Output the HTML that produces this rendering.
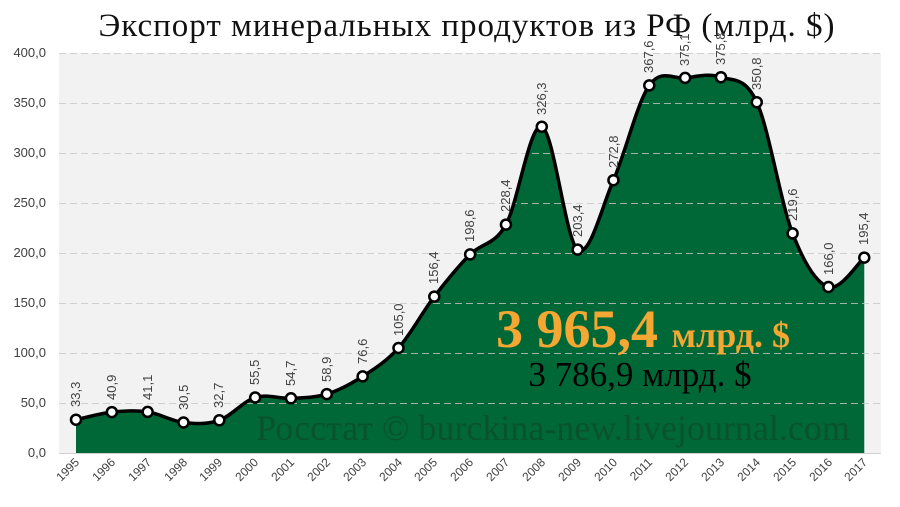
<!DOCTYPE html>
<html><head><meta charset="utf-8"><style>
body{margin:0;background:#fff}
svg{display:block}
.t{font-family:"Liberation Sans","DejaVu Sans",sans-serif;font-size:13px;fill:#404040}
.s{font-family:"Liberation Serif","DejaVu Serif",serif}
</style></head><body>
<svg id="c" width="900" height="507" viewBox="0 0 900 507" xmlns="http://www.w3.org/2000/svg">
<rect x="59" y="53" width="822" height="400" fill="#f2f2f2"/>
<path id="area" fill="#006837"/>
<g stroke="#c8c8c8" stroke-width="1" stroke-dasharray="7,4" opacity="0.8">
<line x1="59" x2="881" y1="53.5" y2="53.5"/><line x1="59" x2="881" y1="103.5" y2="103.5"/>
<line x1="59" x2="881" y1="153.5" y2="153.5"/><line x1="59" x2="881" y1="203.5" y2="203.5"/>
<line x1="59" x2="881" y1="253.5" y2="253.5"/><line x1="59" x2="881" y1="303.5" y2="303.5"/>
<line x1="59" x2="881" y1="353.5" y2="353.5"/><line x1="59" x2="881" y1="403.5" y2="403.5"/>
</g>
<line x1="59" x2="881" y1="453.5" y2="453.5" stroke="#d0d0d0"/>
<g class="t" text-anchor="end">
<text x="46" y="57">400,0</text><text x="46" y="107">350,0</text><text x="46" y="157">300,0</text>
<text x="46" y="207">250,0</text><text x="46" y="257">200,0</text><text x="46" y="307">150,0</text>
<text x="46" y="357">100,0</text><text x="46" y="407">50,0</text><text x="46" y="457">0,0</text>
</g>
<text class="s" x="467" y="36" text-anchor="middle" font-size="33" letter-spacing="1" fill="#111">Экспорт минеральных продуктов из РФ (млрд. $)</text>
<text class="s" x="553" y="440" text-anchor="middle" font-size="36" fill="#0b4f2a" opacity="0.85">Росстат © burckina-new.livejournal.com</text>
<path id="line" fill="none" stroke="#000" stroke-width="3.5"/>
<g id="dots"></g>
<g class="t" id="vals">
<text transform="translate(80,407) rotate(-90)">33,3</text>
<text transform="translate(116,400) rotate(-90)">40,9</text>
<text transform="translate(152,400) rotate(-90)">41,1</text>
<text transform="translate(188,410) rotate(-90)">30,5</text>
<text transform="translate(223,408) rotate(-90)">32,7</text>
<text transform="translate(259,385) rotate(-90)">55,5</text>
<text transform="translate(295,386) rotate(-90)">54,7</text>
<text transform="translate(331,382) rotate(-90)">58,9</text>
<text transform="translate(367,364) rotate(-90)">76,6</text>
<text transform="translate(403,336) rotate(-90)">105,0</text>
<text transform="translate(438,284) rotate(-90)">156,4</text>
<text transform="translate(474,242) rotate(-90)">198,6</text>
<text transform="translate(510,212) rotate(-90)">228,4</text>
<text transform="translate(546,115) rotate(-90)">326,3</text>
<text transform="translate(582,237) rotate(-90)">203,4</text>
<text transform="translate(618,168) rotate(-90)">272,8</text>
<text transform="translate(653,73) rotate(-90)">367,6</text>
<text transform="translate(689,66) rotate(-90)">375,1</text>
<text transform="translate(725,65) rotate(-90)">375,8</text>
<text transform="translate(761,90) rotate(-90)">350,8</text>
<text transform="translate(797,221) rotate(-90)">219,6</text>
<text transform="translate(833,275) rotate(-90)">166,0</text>
<text transform="translate(868,245) rotate(-90)">195,4</text>
</g>
<g class="t" text-anchor="end" id="yrs" style="font-size:12px">
<text transform="translate(80,463) rotate(-45)">1995</text>
<text transform="translate(116,463) rotate(-45)">1996</text>
<text transform="translate(152,463) rotate(-45)">1997</text>
<text transform="translate(188,463) rotate(-45)">1998</text>
<text transform="translate(223,463) rotate(-45)">1999</text>
<text transform="translate(259,463) rotate(-45)">2000</text>
<text transform="translate(295,463) rotate(-45)">2001</text>
<text transform="translate(331,463) rotate(-45)">2002</text>
<text transform="translate(367,463) rotate(-45)">2003</text>
<text transform="translate(403,463) rotate(-45)">2004</text>
<text transform="translate(438,463) rotate(-45)">2005</text>
<text transform="translate(474,463) rotate(-45)">2006</text>
<text transform="translate(510,463) rotate(-45)">2007</text>
<text transform="translate(546,463) rotate(-45)">2008</text>
<text transform="translate(582,463) rotate(-45)">2009</text>
<text transform="translate(618,463) rotate(-45)">2010</text>
<text transform="translate(653,463) rotate(-45)">2011</text>
<text transform="translate(689,463) rotate(-45)">2012</text>
<text transform="translate(725,463) rotate(-45)">2013</text>
<text transform="translate(761,463) rotate(-45)">2014</text>
<text transform="translate(797,463) rotate(-45)">2015</text>
<text transform="translate(833,463) rotate(-45)">2016</text>
<text transform="translate(868,463) rotate(-45)">2017</text>
</g>
<text class="s" x="496" y="347" font-size="54" font-weight="bold" fill="#f5a733">3 965,4 <tspan font-size="36">млрд. $</tspan></text>
<text class="s" x="640" y="386" text-anchor="middle" font-size="35" fill="#000">3 786,9 млрд. $</text>
</svg>
<script>
var v=[33.3,40.9,41.1,30.5,32.7,55.5,54.7,58.9,76.6,105.0,156.4,198.6,228.4,326.3,203.4,272.8,367.6,375.1,375.8,350.8,219.6,166.0,195.4];
var p=v.map(function(a,i){return [76+35.83*i,453-a];});
var d="M"+p[0][0]+","+p[0][1];
for(var i=0;i<p.length-1;i++){
 var p0=p[i-1]||p[i],p1=p[i],p2=p[i+1],p3=p[i+2]||p[i+1],k=6;
 var c1=[p1[0]+(p2[0]-p0[0])/k,p1[1]+(p2[1]-p0[1])/k];
 var c2=[p2[0]-(p3[0]-p1[0])/k,p2[1]-(p3[1]-p1[1])/k];
 d+=" C"+c1[0]+","+c1[1]+" "+c2[0]+","+c2[1]+" "+p2[0]+","+p2[1];
}
document.getElementById("line").setAttribute("d",d);
document.getElementById("area").setAttribute("d",d+" L"+p[p.length-1][0]+",453 L"+p[0][0]+",453 Z");
var g=document.getElementById("dots"),ns="http://www.w3.org/2000/svg";
p.forEach(function(q){var c=document.createElementNS(ns,"circle");c.setAttribute("cx",q[0]);c.setAttribute("cy",q[1]);c.setAttribute("r",5);c.setAttribute("fill","#fff");c.setAttribute("stroke","#000");c.setAttribute("stroke-width","2.5");g.appendChild(c);});
</script>
</body></html>
